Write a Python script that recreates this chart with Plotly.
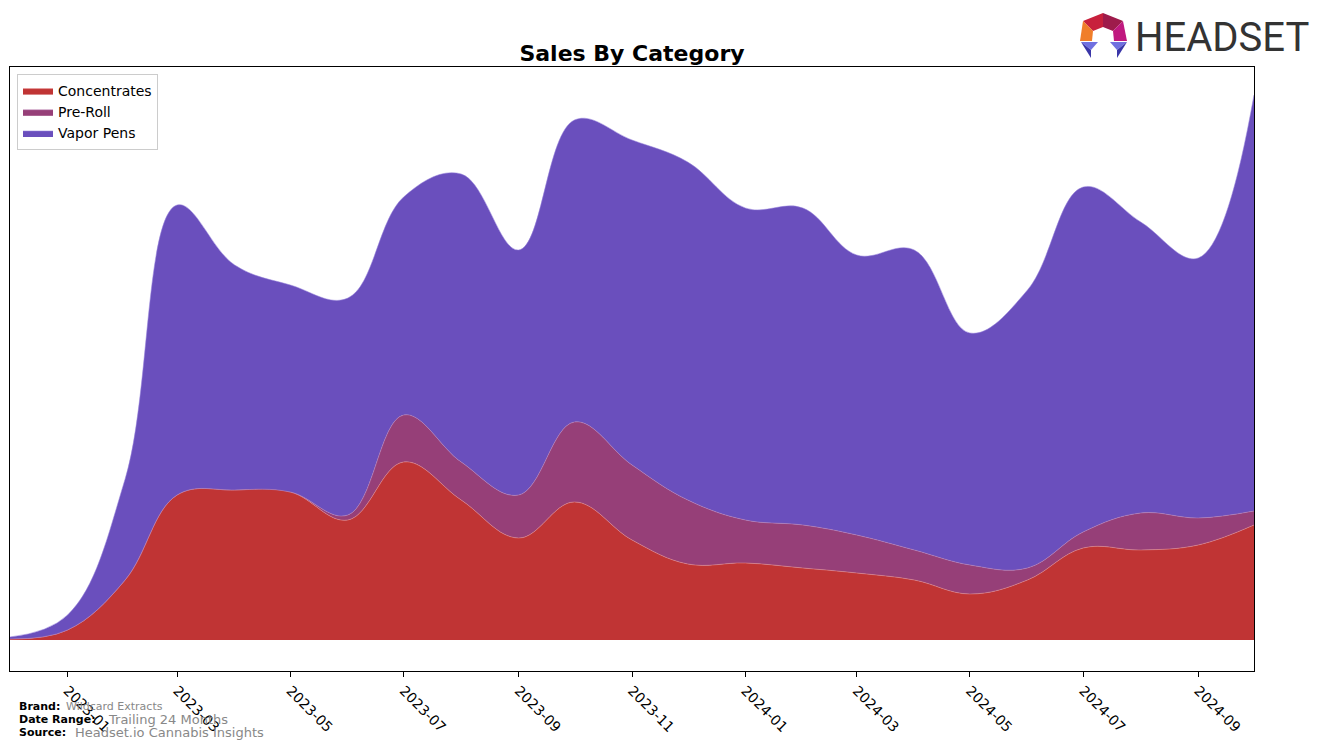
import plotly.graph_objects as go

# ---------------- data ----------------
months = ["2022-12-01", "2023-01-01", "2023-02-01", "2023-03-01", "2023-04-01", "2023-05-01",
          "2023-06-01", "2023-07-01", "2023-08-01", "2023-09-01", "2023-10-01", "2023-11-01",
          "2023-12-01", "2024-01-01", "2024-02-01", "2024-03-01", "2024-04-01", "2024-05-01",
          "2024-06-01", "2024-07-01", "2024-08-01", "2024-09-01", "2024-10-01"]
concentrates = [1, 10, 60, 145, 150, 148, 120, 178, 140, 102, 138, 100,
                76, 77, 72, 67, 60, 46, 60, 92, 90, 95, 115]
pre_roll = [0, 0, 0, 0, 0, 0, 5, 47, 38, 43, 80, 75,
            64, 43, 43, 38, 30, 29, 12, 16, 37, 27, 14]
vapor_pens = [2, 15, 101, 290, 225, 207, 217, 218, 288, 245, 302, 325,
              338, 312, 317, 280, 300, 232, 278, 345, 291, 260, 416]
series_names = ["Concentrates", "Pre-Roll", "Vapor Pens"]
tick_vals = ["2023-01-01", "2023-03-01", "2023-05-01", "2023-07-01", "2023-09-01", "2023-11-01",
             "2024-01-01", "2024-03-01", "2024-05-01", "2024-07-01", "2024-09-01"]
tick_text = ["2023-01", "2023-03", "2023-05", "2023-07", "2023-09", "2023-11",
             "2024-01", "2024-03", "2024-05", "2024-07", "2024-09"]

colors = ["#C03434", "#963F78", "#6A4FBD"]
edge_colors = ["rgba(230,140,140,0.9)", "rgba(190,130,180,0.9)", "rgba(150,130,220,0.9)"]

W, H = 1318, 748
L, R, T, B = 10, 1254, 67, 671


def px(x):
    return (x - L) / (R - L)


def py(y):
    return (B - y) / (B - T)


fig = go.Figure()
for name, vals, c, ec in zip(series_names, [concentrates, pre_roll, vapor_pens], colors, edge_colors):
    fig.add_trace(go.Scatter(
        x=months, y=vals, name=name, mode="lines", stackgroup="one",
        line=dict(shape="spline", smoothing=1.1, width=0.6, color=ec),
        fillcolor=c,
    ))

fig.update_layout(
    width=W, height=H,
    margin=dict(l=L, r=W - R, t=T, b=H - B, pad=0),
    paper_bgcolor="white", plot_bgcolor="white",
    font=dict(family="DejaVu Sans", color="black"),
    title=dict(text="<b>Sales By Category</b>", x=px(632), xref="paper", xanchor="center",
               y=1 - 53 / H, yanchor="middle", font=dict(size=22, family="DejaVu Sans", color="black")),
    showlegend=True,
    legend=dict(x=px(17), y=py(74), xanchor="left", yanchor="top",
                bgcolor="white", bordercolor="#CCCCCC", borderwidth=1,
                font=dict(size=14, family="DejaVu Sans"), tracegroupgap=0,
                itemwidth=30, traceorder="normal"),
    xaxis=dict(type="date", range=["2022-12-01", "2024-10-01"], tickmode="array",
               tickvals=tick_vals, ticktext=tick_text, tickangle=45,
               ticks="outside", ticklen=5, tickwidth=1, tickcolor="black",
               tickfont=dict(size=14, family="DejaVu Sans", color="black"),
               showgrid=False, zeroline=False, showline=True, linecolor="black",
               linewidth=1, mirror=True),
    yaxis=dict(range=[-31, 573], showticklabels=False, ticks="", showgrid=False,
               zeroline=False, showline=True, linecolor="black", linewidth=1, mirror=True),
)

# footer text
footer = [
    (706, "Brand:", 17, "Wildcard Extracts", 64, 11),
    (719, "Date Range:", 17, "Trailing 24 Months", 106, 13),
    (732, "Source:", 17, "Headset.io Cannabis Insights", 73, 13),
]
for yy, lab, lx, val, vx, vs in footer:
    fig.add_annotation(text="<b>" + lab + "</b>", x=px(lx), y=py(yy), xref="paper", yref="paper",
                       xanchor="left", yanchor="middle", showarrow=False,
                       font=dict(size=11, family="DejaVu Sans", color="black"))
    fig.add_annotation(text=val, x=px(vx), y=py(yy), xref="paper", yref="paper",
                       xanchor="left", yanchor="middle", showarrow=False,
                       font=dict(size=vs, family="DejaVu Sans", color="#888888"))

# HEADSET logo text
fig.add_annotation(text="HEADSET", x=px(1133), y=py(37), xref="paper", yref="paper",
                   xanchor="left", yanchor="middle", showarrow=False,
                   font=dict(size=40, family="Roboto", color="#333333"))

# logo icon polygons (pixel coordinates)
Tp, UR, Rp, UL, Lp = (1103, 13), (1123, 21), (1127, 41), (1083, 21), (1080, 41)
tp, ur, rp, ul, lp = (1103, 27), (1113, 31), (1114, 41), (1093, 31), (1092, 41)
polys = [
    ([UL, Tp, tp, ul], "#C8203C"),
    ([Tp, UR, ur, tp], "#9E1B4B"),
    ([UR, Rp, rp, ur], "#C0187F"),
    ([UL, Lp, lp, ul], "#F07E2A"),
    ([(1081, 42), (1098, 42), (1091, 50)], "#7070E0"),
    ([(1081, 42), (1091, 50), (1091, 58)], "#3A36A8"),
    ([(1110, 42), (1127, 42), (1117, 50)], "#7070E0"),
    ([(1127, 42), (1117, 50), (1117, 58)], "#3A36A8"),
]
for pts, col in polys:
    path = "M " + " L ".join(f"{px(x):.5f},{py(y):.5f}" for x, y in pts) + " Z"
    fig.add_shape(type="path", path=path, xref="paper", yref="paper",
                  fillcolor=col, line=dict(width=0), layer="above")

fig.write_html("out.html")
